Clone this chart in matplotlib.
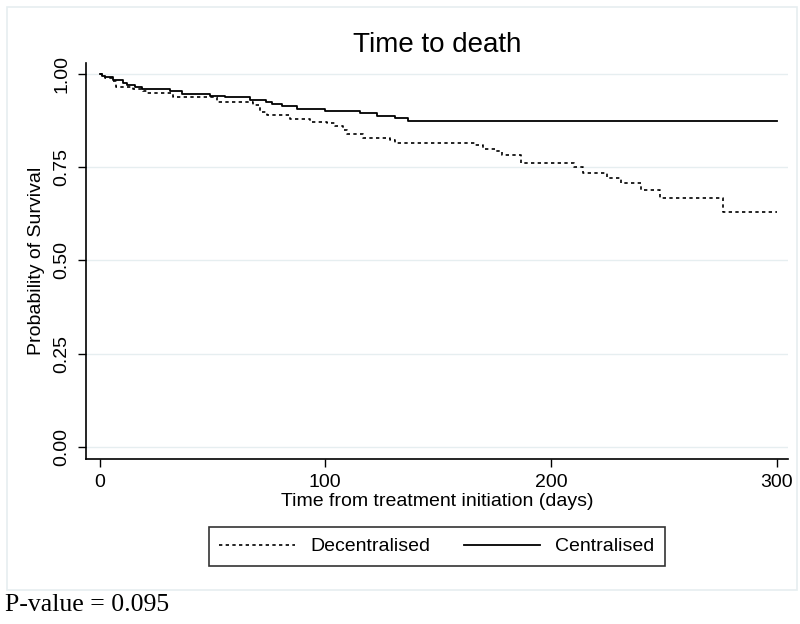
import numpy as np
import matplotlib.pyplot as plt
from matplotlib.patches import Rectangle

# Kaplan-Meier step points (days, survival)
central_days = [0, 1.1, 2.4, 6, 10.4, 12.2, 15.7, 18.8, 31.3, 36.6, 49, 55.7, 66.7,
                73.8, 76.5, 80.9, 87.6, 100, 115.5, 123, 131, 136.8, 300]
central_surv = [1.0, 0.995, 0.991, 0.984, 0.976, 0.970, 0.964, 0.960, 0.953, 0.946,
                0.942, 0.937, 0.929, 0.924, 0.919, 0.913, 0.906, 0.901, 0.895, 0.888,
                0.881, 0.874, 0.874]

decentral_days = [0, 1.0, 2.4, 6, 7.3, 14.9, 19.3, 21, 32.6, 52, 68, 71, 74.3, 84.5,
                  93.3, 100.9, 104.4, 108, 109.8, 116.9, 128.8, 131, 166.5, 170, 175.4,
                  178.5, 186.5, 210, 214.4, 225, 230.8, 239.7, 248.5, 276, 300]
decentral_surv = [1.0, 0.996, 0.989, 0.982, 0.966, 0.959, 0.953, 0.948, 0.937, 0.924,
                  0.917, 0.898, 0.890, 0.879, 0.872, 0.868, 0.860, 0.850, 0.838, 0.827,
                  0.822, 0.816, 0.809, 0.799, 0.792, 0.783, 0.762, 0.751, 0.735, 0.720,
                  0.707, 0.688, 0.668, 0.631, 0.631]

x_ticks = [0, 100, 200, 300]
y_ticks = [0.0, 0.25, 0.5, 0.75, 1.0]

plt.rcParams['font.family'] = ['Liberation Sans', 'DejaVu Sans']

fig = plt.figure(figsize=(8, 6.24), dpi=100)

# light graph-region border
fig.patches.append(Rectangle((7 / 800, 1 - 590 / 624), 790 / 800, 583 / 624,
                             transform=fig.transFigure, fill=False,
                             edgecolor='#e6eef0', linewidth=1.2))

ax = fig.add_axes([0.1075, 0.2644, 0.8775, 0.635])

ax.step(decentral_days, decentral_surv, where='post', color='black',
        linewidth=1.2, linestyle=(0, (2, 2)), label='Decentralised')
ax.step(central_days, central_surv, where='post', color='black',
        linewidth=1.3, label='Centralised')

ax.set_xlim(-6, 305)
ax.set_ylim(-0.033, 1.03)
ax.set_xticks(x_ticks)
ax.set_yticks(y_ticks)
ax.set_yticklabels(['%.2f' % v for v in y_ticks], rotation=90, va='center')
ax.tick_params(axis='both', labelsize=14, length=6, width=1, direction='out')
ax.tick_params(axis='y', pad=5)
ax.tick_params(axis='x', pad=5)

for y in y_ticks:
    ax.axhline(y, color='#e6eef0', linewidth=1, zorder=0)

ax.spines['top'].set_visible(False)
ax.spines['right'].set_visible(False)
ax.spines['left'].set_linewidth(1.2)
ax.spines['bottom'].set_linewidth(1.2)

ax.set_title('Time to death', fontsize=20, pad=8)
ax.set_xlabel('Time from treatment initiation (days)', fontsize=14, labelpad=1)
ax.set_ylabel('Probability of Survival', fontsize=14, labelpad=6)

handles, labels = ax.get_legend_handles_labels()
leg = fig.legend(handles, labels, loc='center', bbox_to_anchor=(0.546, 0.124),
                 ncol=2, fontsize=14, frameon=True, fancybox=False,
                 edgecolor='black', handlelength=3.9, columnspacing=1.7,
                 borderpad=0.55, handletextpad=0.8)
leg.get_frame().set_linewidth(1.2)

fig.text(5 / 800, 1 - 605 / 624, 'P-value = 0.095', fontsize=18.5,
         family='Liberation Serif', va='center', ha='left')

fig.savefig('out.png', dpi=100)
